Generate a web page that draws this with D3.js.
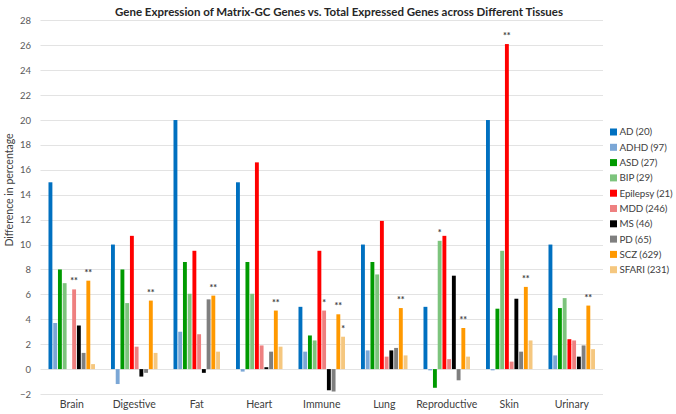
<!DOCTYPE html>
<html>
<head>
<meta charset="utf-8">
<script src="https://cdn.jsdelivr.net/npm/d3@7"></script>
<style>
  html, body { margin: 0; padding: 0; background: #fff; }
  svg { display: block; font-family: Lato, "Open Sans", sans-serif; }
</style>
</head>
<body>
<svg id="chart" width="676" height="414"></svg>
<script>
const categories = ["Brain", "Digestive", "Fat", "Heart", "Immune", "Lung", "Reproductive", "Skin", "Urinary"];
const seriesNames = ["AD (20)", "ADHD (97)", "ASD (27)", "BIP (29)", "Epilepsy (21)", "MDD (246)", "MS (46)", "PD (65)", "SCZ (629)", "SFARI (231)"];
const AD       = [15, 10, 20, 15, 5, 10, 5, 20, 10];
const ADHD     = [3.7, -1.2, 3.0, -0.2, 1.4, 1.5, -0.1, -0.1, 1.1];
const ASD      = [8.0, 8.0, 8.6, 8.6, 2.7, 8.6, -1.5, 4.85, 4.9];
const BIP      = [6.9, 5.3, 6.05, 6.05, 2.3, 7.6, 10.3, 9.5, 5.7];
const Epilepsy = [0, 10.7, 9.5, 16.6, 9.5, 11.9, 10.7, 26.1, 2.4];
const MDD      = [6.4, 1.8, 2.8, 1.9, 4.7, 1.0, 0.8, 0.6, 2.3];
const MS       = [3.5, -0.6, -0.3, 0.15, -1.7, 1.5, 7.5, 5.65, 1.0];
const PD       = [1.3, -0.3, 5.6, 1.4, -1.8, 1.7, -0.9, 1.4, 1.9];
const SCZ      = [7.1, 5.5, 5.9, 4.7, 4.4, 4.9, 3.3, 6.6, 5.1];
const SFARI    = [0.4, 1.3, 1.4, 1.8, 2.6, 1.1, 1.0, 2.3, 1.6];
const seriesValues = [AD, ADHD, ASD, BIP, Epilepsy, MDD, MS, PD, SCZ, SFARI];
const colors = ["#0070C0", "#7BA7D6", "#009A00", "#7DC47D", "#FF0000", "#EE8080", "#000000", "#7F7F7F", "#FF9900", "#F5C77F"];
// significance marks: [category index, series index, mark]
const marks = [
  [0, 5, "**"], [0, 8, "**"],
  [1, 8, "**"], [2, 8, "**"], [3, 8, "**"],
  [4, 5, "*"], [4, 8, "**"], [4, 9, "*"],
  [5, 8, "**"],
  [6, 3, "*"], [6, 8, "**"],
  [7, 4, "**"], [7, 8, "**"],
  [8, 8, "**"]
];
const yTicks = d3.range(-2, 29, 2);

const svg = d3.select("#chart");
const plot = { left: 40.5, right: 603, top: 20.4, bottom: 394 };

const y = d3.scaleLinear().domain([-2, 28]).range([plot.bottom, plot.top]);
const x0 = d3.scaleBand().domain(categories).range([plot.left, plot.right]).padding(0);
const x1 = d3.scaleBand().domain(d3.range(seriesNames.length))
  .range([8, x0.bandwidth() - 8]).paddingInner(0.18).paddingOuter(0);

// gridlines
svg.append("g").selectAll("line").data(yTicks).join("line")
  .attr("x1", plot.left).attr("x2", plot.right)
  .attr("y1", d => Math.round(y(d)) + 0.5).attr("y2", d => Math.round(y(d)) + 0.5)
  .attr("stroke", "#E3E3E3").attr("stroke-width", 1);

// y axis labels
const yAxis = d3.axisLeft(y).tickValues(yTicks).tickSize(0).tickPadding(0);
const yg = svg.append("g").attr("transform", `translate(31,0)`).call(yAxis);
yg.select(".domain").remove();
yg.selectAll("text").attr("fill", "#595959").style("font-size", "9.5px").style("font-family", "Lato, sans-serif");

// x axis labels
const xAxis = d3.axisBottom(x0).tickSize(0).tickPadding(0);
const xg = svg.append("g").attr("transform", `translate(0,401)`).call(xAxis);
xg.select(".domain").remove();
xg.selectAll("text").attr("fill", "#404040").style("font-size", "10.5px").style("font-family", "Lato, sans-serif");

// bars
const groups = svg.append("g").selectAll("g").data(categories).join("g")
  .attr("transform", d => `translate(${x0(d)},0)`);
groups.selectAll("rect").data((c, ci) => seriesValues.map((s, si) => ({ si, v: s[ci] })))
  .join("rect")
  .attr("x", d => x1(d.si))
  .attr("width", x1.bandwidth())
  .attr("y", d => y(Math.max(0, d.v)))
  .attr("height", d => Math.abs(y(d.v) - y(0)))
  .attr("fill", d => colors[d.si]);

// significance marks
svg.append("g").selectAll("text").data(marks).join("text")
  .attr("x", d => x0(categories[d[0]]) + x1(d[1]) + x1.bandwidth() / 2)
  .attr("y", d => y(seriesValues[d[1]][d[0]]) - 5)
  .attr("text-anchor", "middle")
  .attr("fill", "#404040")
  .style("font-size", "9px")
  .style("font-weight", "bold")
  .text(d => d[2]);

// title
svg.append("text").attr("x", 339).attr("y", 16).attr("text-anchor", "middle")
  .attr("fill", "#262626").style("font-size", "11.5px").style("font-weight", "bold")
  .text("Gene Expression of Matrix-GC Genes vs. Total Expressed Genes across Different Tissues");

// y axis title
svg.append("text").attr("transform", "translate(13,190) rotate(-90)")
  .attr("text-anchor", "middle").attr("fill", "#404040").style("font-size", "10.5px")
  .text("Difference in percentage");

// legend
const lg = svg.append("g").selectAll("g").data(seriesNames).join("g")
  .attr("transform", (d, i) => `translate(610,${132 + i * 15.3})`);
lg.append("rect").attr("x", 0).attr("y", -3.5).attr("width", 7).attr("height", 7)
  .attr("fill", (d, i) => colors[i]);
lg.append("text").attr("x", 9.5).attr("y", 0).attr("dy", "0.35em")
  .attr("fill", "#404040").style("font-size", "9.8px").style("letter-spacing", "-0.1px").text(d => d);
</script>
</body>
</html>
